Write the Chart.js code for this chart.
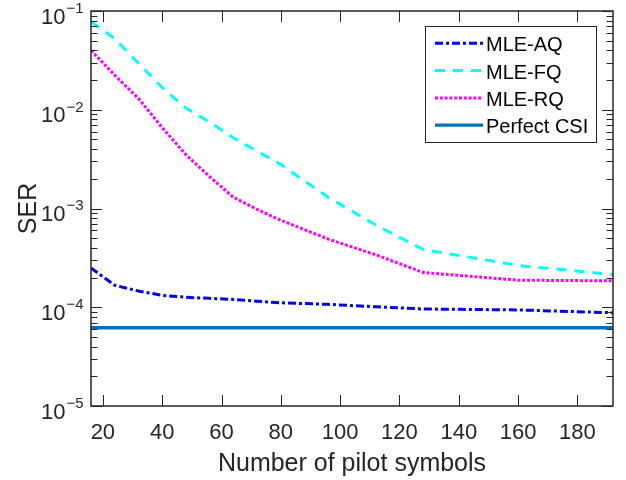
<!DOCTYPE html>
<html>
<head>
<meta charset="utf-8">
<script src="https://cdn.jsdelivr.net/npm/chart.js@4"></script>
<style>
  html, body { margin: 0; padding: 0; background: #fff; }
  canvas { display: block; }
</style>
</head>
<body>
<canvas id="chart" width="626" height="480"></canvas>
<script>
// values
const pilotSymbols = [16, 24, 32, 40, 48, 56, 64, 72, 80, 96, 112, 128, 160, 192];
const serAQ = [2.5e-4, 1.67e-4, 1.46e-4, 1.32e-4, 1.26e-4, 1.23e-4, 1.2e-4, 1.15e-4, 1.11e-4, 1.07e-4, 1.01e-4, 9.6e-5, 9.4e-5, 8.8e-5];
const serFQ = [0.078, 0.0525, 0.0296, 0.0168, 0.0104, 0.0075, 0.0052, 0.0038, 0.0028, 0.0013, 0.00068, 0.000385, 0.000265, 0.000215];
const serRQ = [0.040, 0.0224, 0.013, 0.0066, 0.0035, 0.0021, 0.0013, 0.00098, 0.00076, 0.00049, 0.00034, 0.000225, 0.000188, 0.000185];
const serPerfect = [6.2e-5, 6.2e-5, 6.2e-5, 6.2e-5, 6.2e-5, 6.2e-5, 6.2e-5, 6.2e-5, 6.2e-5, 6.2e-5, 6.2e-5, 6.2e-5, 6.2e-5, 6.2e-5];

const xTicks = [20, 40, 60, 80, 100, 120, 140, 160, 180];
const yExponents = [-5, -4, -3, -2, -1];

const FONT = '"Liberation Sans", Arial, Helvetica, sans-serif';
const INK = '#262626';

const toPoints = (ys) => ys.map((v, i) => ({ x: pilotSymbols[i], y: v }));

// draws the MATLAB style box, ticks, labels and legend
const axesPlugin = {
  id: 'matlabAxes',
  afterDatasetsDraw(chart) {
    const { ctx, chartArea: a, scales: { x, y } } = chart;
    ctx.save();

    // ticks on all four sides, pointing inwards
    ctx.strokeStyle = INK;
    ctx.lineWidth = 1;
    ctx.beginPath();
    xTicks.forEach(v => {
      const px = Math.round(x.getPixelForValue(v)) + 0.5;
      ctx.moveTo(px, a.bottom); ctx.lineTo(px, a.bottom - 11);
      ctx.moveTo(px, a.top); ctx.lineTo(px, a.top + 11);
    });
    yExponents.forEach(e => {
      for (let m = 1; m <= 9; m++) {
        const v = m * Math.pow(10, e);
        if (v > y.max * 1.0001) break;
        const len = m === 1 ? 11 : 6.5;
        const py = Math.round(y.getPixelForValue(v)) + 0.5;
        ctx.moveTo(a.left, py); ctx.lineTo(a.left + len, py);
        ctx.moveTo(a.right, py); ctx.lineTo(a.right - len, py);
      }
    });
    ctx.stroke();

    ctx.lineWidth = 1.5;
    ctx.strokeRect(a.left, a.top, a.right - a.left, a.bottom - a.top);

    // x tick labels
    ctx.fillStyle = INK;
    ctx.textBaseline = 'alphabetic';
    ctx.textAlign = 'center';
    ctx.font = '22px ' + FONT;
    xTicks.forEach(v => ctx.fillText(String(v), x.getPixelForValue(v), a.bottom + 32.5));

    // y tick labels 10^e
    ctx.textAlign = 'right';
    yExponents.forEach(e => {
      const py = y.getPixelForValue(Math.pow(10, e));
      const sup = '\u2212' + Math.abs(e);
      ctx.font = '15px ' + FONT;
      const sw = ctx.measureText(sup).width;
      ctx.fillText(sup, 83.5, py + 1.8);
      ctx.font = '22px ' + FONT;
      ctx.fillText('10', 83.5 - sw - 1, py + 12.5);
    });

    // axis titles
    ctx.font = '25px ' + FONT;
    ctx.textAlign = 'center';
    ctx.fillText('Number of pilot symbols', (a.left + a.right) / 2, 471);
    ctx.save();
    ctx.translate(36, (a.top + a.bottom) / 2);
    ctx.rotate(-Math.PI / 2);
    ctx.fillText('SER', 0, 0);
    ctx.restore();

    // legend box
    ctx.fillStyle = '#fff';
    ctx.fillRect(425.5, 26.5, 171, 116);
    ctx.strokeStyle = INK;
    ctx.lineWidth = 1;
    ctx.strokeRect(425.5, 26.5, 171, 116);
    ctx.font = '20px ' + FONT;
    ctx.textAlign = 'left';
    chart.data.datasets.forEach((ds, i) => {
      const ly = 43.3 + i * 27.3;
      ctx.save();
      ctx.strokeStyle = ds.borderColor;
      ctx.lineWidth = ds.borderWidth;
      ctx.setLineDash(ds.borderDash || []);
      ctx.beginPath();
      ctx.moveTo(435, ly);
      ctx.lineTo(483, ly);
      ctx.stroke();
      ctx.restore();
      ctx.fillStyle = '#000';
      ctx.fillText(ds.label, 486, ly + 8);
    });

    ctx.restore();
  }
};

new Chart(document.getElementById('chart'), {
  type: 'line',
  data: {
    datasets: [
      { label: 'MLE-AQ', data: toPoints(serAQ), borderColor: '#0000FF', borderWidth: 3, borderDash: [8, 3, 3, 3] },
      { label: 'MLE-FQ', data: toPoints(serFQ), borderColor: '#00FFFF', borderWidth: 3, borderDash: [10, 8] },
      { label: 'MLE-RQ', data: toPoints(serRQ), borderColor: '#FF00FF', borderWidth: 3, borderDash: [3, 1.8] },
      { label: 'Perfect CSI', data: toPoints(serPerfect), borderColor: '#0072BD', borderWidth: 3.3 }
    ]
  },
  options: {
    responsive: false,
    animation: false,
    devicePixelRatio: 1,
    layout: { padding: { left: 91, right: 13, top: 11, bottom: 74 } },
    elements: {
      point: { radius: 0 },
      line: { tension: 0, fill: false, borderCapStyle: 'butt' }
    },
    scales: {
      x: { type: 'linear', min: 16, max: 192, display: false },
      y: { type: 'logarithmic', min: 1e-5, max: 1e-1, display: false }
    },
    plugins: {
      legend: { display: false },
      tooltip: { enabled: false }
    }
  },
  plugins: [axesPlugin]
});
</script>
</body>
</html>
